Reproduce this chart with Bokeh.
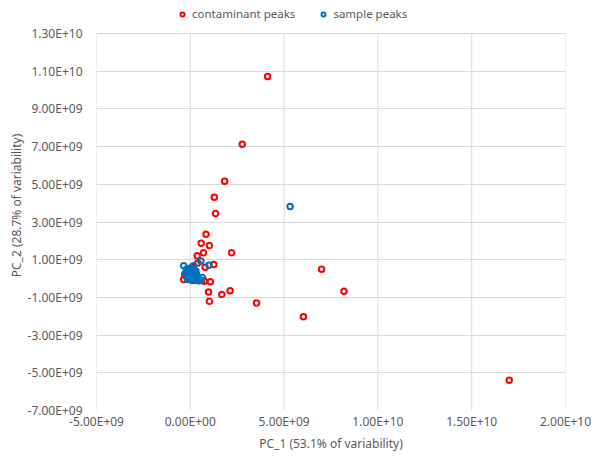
from bokeh.plotting import figure
from bokeh.models import FixedTicker, CustomJSTickFormatter, Legend, LegendItem, Range1d
from bokeh.embed import file_html
from bokeh.resources import INLINE

# --- data (values in units of 1e9) ---
contaminant_x = [4.12, 2.77, 1.83, 1.28, 1.35, 0.84, 0.58, 1.02, 2.20, 0.37, 0.70, 0.40,
                 1.25, 0.79, 7.00, 8.19, 3.53, 6.03, 17.00, -0.35, 0.75, 1.07, 0.97,
                 1.68, 2.12, 1.02, 0.61, 0.35, -0.30, 0.10]
contaminant_y = [10.72, 7.12, 5.16, 4.31, 3.45, 2.35, 1.87, 1.75, 1.37, 1.21, 1.37, 0.83,
                 0.74, 0.60, 0.49, -0.67, -1.30, -2.02, -5.40, -0.05, -0.14, -0.17, -0.72,
                 -0.84, -0.65, -1.21, -0.10, 0.09, 0.20, 0.60]
sample_x = [-0.35, 0.17, 0.56, 1.00, 5.32,
            -0.20, -0.10, 0.00, 0.10, 0.20, 0.30,
            -0.25, -0.15, -0.05, 0.05, 0.15, 0.25, 0.35,
            -0.20, -0.10, 0.00, 0.10, 0.20, 0.30, 0.40,
            -0.15, 0.00, 0.10, 0.20, 0.30, 0.45, 0.55,
            0.05, 0.25, -0.05, 0.65]
sample_y = [0.68, 0.68, 0.93, 0.70, 3.82,
            0.50, 0.45, 0.55, 0.50, 0.45, 0.40,
            0.30, 0.25, 0.35, 0.30, 0.25, 0.30, 0.20,
            0.10, 0.15, 0.10, 0.05, 0.10, 0.05, 0.00,
            -0.05, -0.05, -0.10, -0.05, -0.10, -0.12, -0.08,
            0.20, 0.15, 0.00, 0.05]
scale = 1e9
x_ticks = [-5e9, 0, 5e9, 1e10, 1.5e10, 2e10]
y_ticks = [-7e9, -5e9, -3e9, -1e9, 1e9, 3e9, 5e9, 7e9, 9e9, 1.1e10, 1.3e10]
series_names = ["contaminant peaks", "sample peaks"]
series_colors = ["#FF0000", "#0070C0"]

FONT = "Noto Sans"
TXT = "#595959"
GRID = "#D9D9D9"

# layout: plotting area 377 px tall, plus 33 px of headroom for the legend
PLOT_H = 377
HEAD = 33
y_span = y_ticks[-1] - y_ticks[0]
y_top = y_ticks[-1] + y_span * HEAD / PLOT_H

p = figure(frame_width=469, frame_height=PLOT_H + HEAD, output_backend="svg", toolbar_location=None,
           x_range=Range1d(x_ticks[0], x_ticks[-1]), y_range=Range1d(y_ticks[0], y_top),
           min_border_left=96, min_border_right=30, min_border_top=0, min_border_bottom=44)
p.outline_line_color = None

fmt = CustomJSTickFormatter(code="""
var s = tick.toExponential(2).toUpperCase();
var parts = s.split('E');
var e = parts[1];
var sign = e[0];
var d = e.slice(1);
if (d.length < 2) d = '0' + d;
return parts[0] + 'E' + sign + d;
""")

for ax, ticks in ((p.xaxis[0], x_ticks), (p.yaxis[0], y_ticks)):
    ax.ticker = FixedTicker(ticks=ticks)
    ax.formatter = fmt
    ax.axis_line_color = None
    ax.major_tick_line_color = None
    ax.minor_tick_line_color = None
    ax.major_tick_in = 0
    ax.major_tick_out = 0
    ax.major_label_text_font = FONT
    ax.major_label_text_font_size = "12px"
    ax.major_label_text_color = TXT
    ax.axis_label_text_font = FONT
    ax.axis_label_text_font_size = "12px"
    ax.axis_label_text_font_style = "normal"
    ax.axis_label_text_color = TXT

p.xaxis.axis_label = "PC_1 (53.1% of variability)"
p.yaxis.axis_label = "PC_2 (28.7% of variability)"
p.xaxis.major_label_standoff = 2
p.xaxis.axis_label_standoff = 2
p.yaxis.major_label_standoff = 14
p.yaxis.axis_label_standoff = 0

# horizontal gridlines from the y ticks; vertical gridlines only over the data area
p.ygrid.ticker = FixedTicker(ticks=y_ticks)
p.ygrid.grid_line_color = GRID
p.ygrid.grid_line_width = 1
p.xgrid.visible = False
p.segment(x0=x_ticks, y0=[y_ticks[0]] * len(x_ticks), x1=x_ticks, y1=[y_ticks[-1]] * len(x_ticks),
          line_color=GRID, line_width=1)

r1 = p.scatter([v * scale for v in contaminant_x], [v * scale for v in contaminant_y],
               marker="circle", size=5.5, fill_color=None,
               line_color=series_colors[0], line_width=2)
r2 = p.scatter([v * scale for v in sample_x], [v * scale for v in sample_y],
               marker="circle", size=5.5, fill_color=None,
               line_color=series_colors[1], line_width=2)

legend = Legend(items=[LegendItem(label=series_names[0], renderers=[r1]),
                       LegendItem(label=series_names[1], renderers=[r2])],
                orientation="horizontal", location=(81, PLOT_H + 12),
                label_text_font=FONT, label_text_font_size="11.5px", label_text_color=TXT,
                glyph_width=10, glyph_height=10, label_standoff=5, spacing=23,
                padding=0, margin=0, border_line_color=None, background_fill_alpha=0)
p.add_layout(legend, "center")

open("out.html", "w").write(file_html(p, INLINE))
